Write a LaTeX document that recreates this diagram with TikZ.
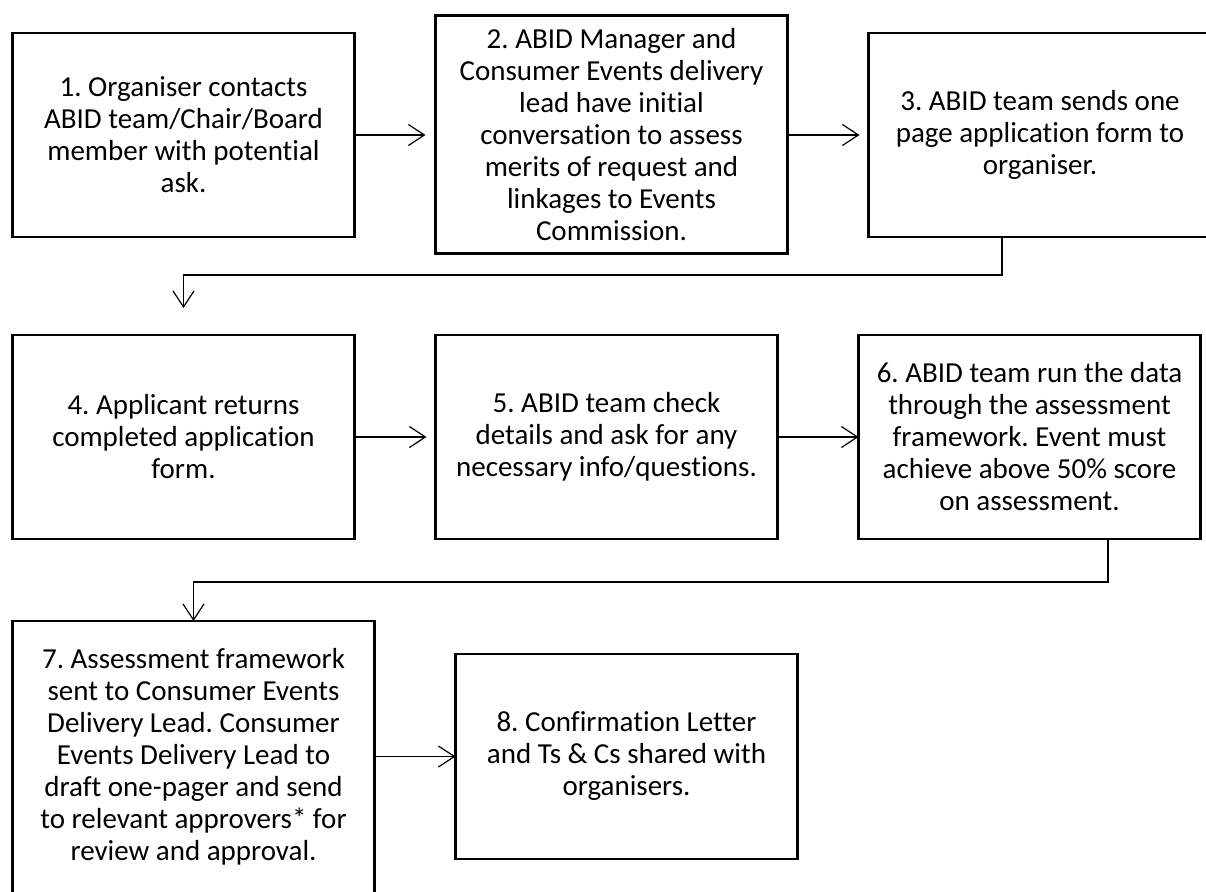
\documentclass[tikz,border=0pt]{standalone}
\usepackage{fontspec}
\setmainfont{Carlito}[Ligatures=NoCommon]
\usetikzlibrary{arrows.meta}
\frenchspacing
\begin{document}
\begin{tikzpicture}[x=1pt,y=-1pt,
  box/.style={draw, line width=2.6pt, rectangle, outer sep=0pt, inner sep=0pt, align=center,
    font=\fontsize{29}{32}\selectfont\frenchspacing},
  arr/.style={line width=1.2pt, -{Straight Barb[length=16pt,width=21pt,line width=1.2pt]}}]
\useasboundingbox (0,0) rectangle (1206,891);
\node[box, minimum width=342pt, minimum height=204pt] (b1) at (183.5,135) {1. Organiser contacts\\ABID team/Chair/Board\\member with potential\\ask.};
\node[box, minimum width=352pt, minimum height=238pt] (b2) at (611.5,134.5) {2. ABID Manager and\\Consumer Events delivery\\lead have initial\\conversation to assess\\merits of request and\\linkages to Events\\Commission.};
\node[box, minimum width=343pt, minimum height=204pt] (b3) at (1040,135) {3. ABID team sends one\\page application form to\\organiser.};
\node[box, minimum width=342pt, minimum height=204pt] (b4) at (183.5,437) {4. Applicant returns\\completed application\\form.};
\node[box, minimum width=342pt, minimum height=204pt] (b5) at (606.5,437) {5. ABID team check\\details and ask for any\\necessary info/questions.};
\node[box, minimum width=342pt, minimum height=204pt] (b6) at (1029.5,437) {6. ABID team run the data\\through the assessment\\framework. Event must\\achieve above 50\% score\\on assessment.};
\node[box, minimum width=362pt, minimum height=272pt] (b7) at (193.5,757) {7. Assessment framework\\sent to Consumer Events\\Delivery Lead. Consumer\\Events Delivery Lead to\\draft one-pager and send\\to relevant approvers* for\\review and approval.};
\node[box, minimum width=342pt, minimum height=205pt] (b8) at (626.5,756.5) {8. Confirmation Letter\\and Ts \& Cs shared with\\organisers.};
\coordinate (t4) at ([yshift=27pt]b4.north);
\draw[arr, shorten >=10pt] (b1.east) -- (b1.east -| b2.west);
\draw[arr, shorten >=9pt] (b2.east |- b3.west) -- (b3.west);
\draw[arr, shorten >=9pt] (b4.east) -- (b5.west);
\draw[arr] (b5.east) -- (b6.west);
\draw[arr] (b7.east |- b8.west) -- (b8.west);
\draw[arr] ([xshift=-38pt]b3.south) -- ++(0,38) -| (t4);
\draw[arr] ([xshift=78.5pt]b6.south) -- ++(0,43) -| (b7.north);
\end{tikzpicture}
\end{document}
